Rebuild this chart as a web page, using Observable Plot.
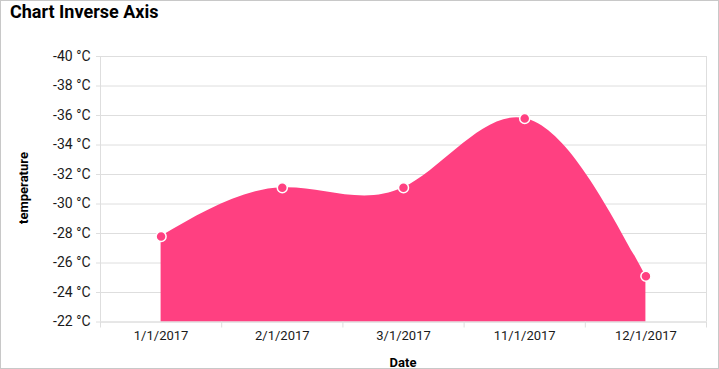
<!DOCTYPE html>
<html>
<head>
<meta charset="utf-8">
<script src="https://cdn.jsdelivr.net/npm/d3@7"></script>
<script src="https://cdn.jsdelivr.net/npm/@observablehq/plot@0.6"></script>
<style>
  body { margin: 0; background: #fff; }
  #wrap { position: relative; width: 719px; height: 369px; overflow: hidden; font-family: Roboto, sans-serif; }
  #wrap svg { position: absolute; left: 0; top: 0; }
  #border { position: absolute; left: 0; top: 0; width: 719px; height: 369px; box-sizing: border-box; border: 1px solid #c8c8c8; pointer-events: none; }
  .t { position: absolute; white-space: nowrap; color: #000; }
  #title { left: 10px; top: 1px; font-size: 18px; font-weight: 700; }
  #ylab { left: 23px; top: 188px; font-size: 13px; font-weight: 700; transform: translate(-50%, -50%) rotate(-90deg); }
  #xlab { left: 403px; top: 362px; font-size: 13px; font-weight: 700; transform: translate(-50%, -50%); }
</style>
</head>
<body>
<div id="wrap">
  <div id="chart"></div>
  <div class="t" id="title">Chart Inverse Axis</div>
  <div class="t" id="ylab">temperature</div>
  <div class="t" id="xlab">Date</div>
  <div id="border"></div>
</div>
<script>
const categories = ["1/1/2017", "2/1/2017", "3/1/2017", "11/1/2017", "12/1/2017"];
const temperatures = [-27.8, -31.1, -31.1, -35.8, -25.1];
const yTicks = [-40, -38, -36, -34, -32, -30, -28, -26, -24, -22];
const yMin = -22, yMax = -40;

const data = categories.map((c, i) => ({i, date: c, temp: temperatures[i]}));
const idx = categories.map((c, i) => i);
const bounds = [...idx.map(i => i - 0.5), categories.length - 0.5];
const pink = "#ff4081";
const grid = "#dedede";

const chart = Plot.plot({
  width: 719,
  height: 369,
  marginLeft: 100,
  marginRight: 13,
  marginTop: 56,
  marginBottom: 47.5,
  x: {type: "linear", domain: [-0.5, categories.length - 0.5], axis: null},
  y: {domain: [yMin, yMax], axis: null},
  style: {fontFamily: "Roboto, sans-serif", fontSize: "13px", background: "transparent", overflow: "visible"},
  marks: [
    Plot.gridY(yTicks, {stroke: grid, strokeOpacity: 1}),
    Plot.ruleX([bounds[0], bounds[bounds.length - 1]], {stroke: grid}),
    Plot.areaY(data, {x: "i", y1: yMin, y2: "temp", curve: "natural", fill: pink}),
    Plot.dot(data, {x: "i", y: "temp", r: 5, fill: pink, stroke: "white", strokeWidth: 1.5}),
    Plot.ruleY([yMin], {stroke: grid}),
    Plot.axisY(yTicks, {tickFormat: d => `${d} °C`, tickSize: 4, tickPadding: 6, stroke: grid, fill: "#1a1a1a", label: null, fontSize: 14}),
    Plot.axisX(idx, {tickFormat: i => categories[i], tickSize: 0, tickPadding: 9, fill: "#1a1a1a", label: null}),
    Plot.axisX(bounds, {tickFormat: () => "", tickSize: 6, stroke: grid, label: null})
  ]
});
document.getElementById("chart").appendChild(chart);
</script>
</body>
</html>
